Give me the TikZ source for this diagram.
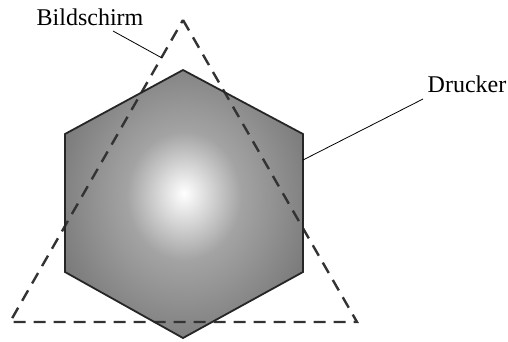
\documentclass[tikz,border=0pt]{standalone}
\usepackage{fontspec}
\setmainfont{Liberation Serif}
\usepackage{tikz}
\usetikzlibrary{calc,positioning}

\pgfdeclareradialshading{glow}{\pgfpoint{0bp}{2bp}}{%
  color(0bp)=(white); color(4bp)=(black!12); color(12bp)=(black!36);
  color(28bp)=(black!52); color(50bp)=(black!70)}

\tikzset{
  label text/.style={font=\fontsize{24}{28}\selectfont, inner sep=1pt},
  leader/.style={draw=black, line width=0.8pt},
  screen/.style={draw=black!80, line width=2.4pt, dash pattern=on 12pt off 8pt},
  printer/.style={draw=black!85, line width=1.8pt, line join=miter}
}

\begin{document}
\begin{tikzpicture}[x=1pt,y=-1pt]
\useasboundingbox (0,0) rectangle (508,341);

% hexagon (Drucker)
\coordinate (h1) at (183,70);
\coordinate (h2) at (303,134);
\coordinate (h3) at (303,272);
\coordinate (h4) at (183,338);
\coordinate (h5) at (65,272);
\coordinate (h6) at (65,134);
\shade[shading=glow] (h1) -- (h2) -- (h3) -- (h4) -- (h5) -- (h6) -- cycle;

% triangle (Bildschirm)
\coordinate (t1) at (183,20);
\coordinate (t2) at (357,322);
\coordinate (t3) at (10,322);
\draw[screen] (t1) -- (t2) -- (t3) -- cycle;

\draw[printer] (h1) -- (h2) -- (h3) -- (h4) -- (h5) -- (h6) -- cycle;

% labels
\node[label text] (bildschirm) at (90,17) {Bildschirm};
\node[label text] (drucker) at (467,84) {Drucker};
\coordinate (bs) at (113,31);
\coordinate (bsend) at (162,58);
\coordinate (dr) at (423,99);
\coordinate (drend) at (303,160);
\draw[leader] (bs) -- (bsend);
\draw[leader] (dr) -- (drend);
\end{tikzpicture}
\end{document}
